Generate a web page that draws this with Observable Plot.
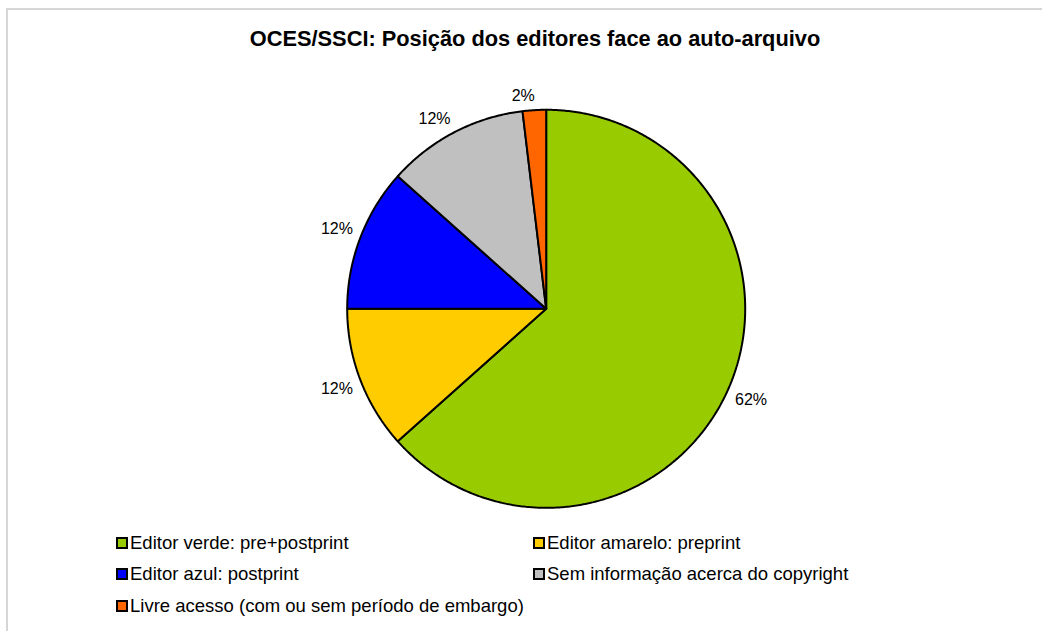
<!DOCTYPE html>
<html><head><meta charset="utf-8">
<script src="https://cdn.jsdelivr.net/npm/d3@7"></script>
<script src="https://cdn.jsdelivr.net/npm/@observablehq/plot@0.6"></script>
<style>
body{margin:0;background:#fff;font-family:"Liberation Sans",Arial,sans-serif;color:#000;}
#frame{position:relative;width:1042px;height:631px;overflow:hidden;background:#fff;}
#border{position:absolute;left:6px;top:8px;width:1100px;height:700px;border-left:2px solid #d6d6d6;border-top:2px solid #d6d6d6;}
#title{position:absolute;left:0;width:1070px;top:27px;text-align:center;font-weight:bold;font-size:21.8px;line-height:24px;white-space:nowrap;}
#chart{position:absolute;left:0;top:0;}
.item{position:absolute;font-size:18.5px;line-height:22px;display:flex;align-items:center;white-space:nowrap;}
.sw{width:8px;height:8px;border:2px solid #000;margin-right:2px;flex:none;}
</style>
</head><body>
<div id="frame">
  <div id="border"></div>
  <div id="chart"></div>
  <div id="title"></div>
  <div id="legend"></div>
</div>
<script>
const title = "OCES/SSCI: Posição dos editores face ao auto-arquivo";
const categories = [
  "Editor verde: pre+postprint",
  "Editor amarelo: preprint",
  "Editor azul: postprint",
  "Sem informação acerca do copyright",
  "Livre acesso (com ou sem período de embargo)"
];
const shares = [63.4, 11.6, 11.6, 11.5, 1.9];
const labels = ["62%", "12%", "12%", "12%", "2%"];
const colors = ["#99cc00", "#ffcc00", "#0000ff", "#c0c0c0", "#ff6600"];

document.getElementById("title").textContent = title;

// geometry of the pie in the frame
const W = 1042, H = 631, cx = 545.7, cy = 308.3, R = 199;
const total = d3.sum(shares);

const slicePts = [];
const labelPts = [];
let cum = 0;
shares.forEach((v, i) => {
  const a0 = cum / total * 2 * Math.PI;
  cum += v;
  const a1 = cum / total * 2 * Math.PI;
  const n = Math.max(2, Math.ceil((a1 - a0) / (Math.PI / 360)));
  slicePts.push({k: i, x: 0, y: 0, c: colors[i]});
  for (let j = 0; j <= n; j++) {
    const a = a0 + (a1 - a0) * j / n;
    slicePts.push({k: i, x: Math.sin(a), y: Math.cos(a), c: colors[i]});
  }
  slicePts.push({k: i, x: 0, y: 0, c: colors[i]});
  // label: box placed just outside the rim at the mid-angle
  const am = (a0 + a1) / 2;
  const s = Math.sin(am), c = Math.cos(am);
  const gap = (R + 8) / R;
  const hw = labels[i].length * 5.3 / R, hh = 6 / R;
  labelPts.push({x: s * gap + Math.sign(s) * hw, y: c * gap + Math.sign(c) * hh, t: labels[i]});
});

const chart = Plot.plot({
  width: W, height: H,
  marginLeft: cx - R, marginRight: W - cx - R,
  marginTop: cy - R, marginBottom: H - cy - R,
  x: {domain: [-1, 1], axis: null},
  y: {domain: [-1, 1], axis: null},
  color: {type: "identity"},
  style: {fontFamily: "'Liberation Sans', Arial, sans-serif", background: "transparent", overflow: "visible"},
  marks: [
    Plot.line(slicePts, {x: "x", y: "y", z: "k", fill: "c", stroke: "#000", strokeWidth: 2, curve: "linear", strokeLinejoin: "miter"}),
    Plot.text(labelPts, {x: "x", y: "y", text: "t", fontSize: 16, fill: "#000", textAnchor: "middle", lineAnchor: "middle"})
  ]
});
document.getElementById("chart").appendChild(chart);

// legend (two columns, three rows)
const legendPos = [[116, 543], [533, 543], [116, 574], [533, 574], [116, 606]];
const leg = document.getElementById("legend");
categories.forEach((name, i) => {
  const d = document.createElement("div");
  d.className = "item";
  d.style.left = legendPos[i][0] + "px";
  d.style.top = (legendPos[i][1] - 11) + "px";
  const sw = document.createElement("span");
  sw.className = "sw";
  sw.style.background = colors[i];
  const t = document.createElement("span");
  t.textContent = name;
  d.appendChild(sw); d.appendChild(t);
  leg.appendChild(d);
});
</script>
</body></html>
